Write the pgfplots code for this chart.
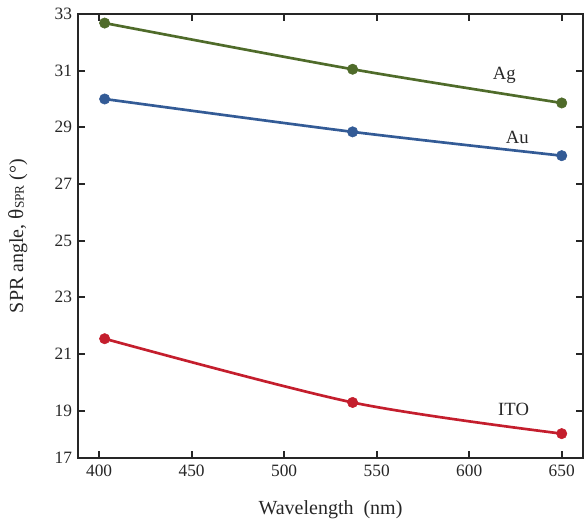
\documentclass[border=0pt]{standalone}
\usepackage{pgfplots}
\pgfplotsset{compat=1.18}
\usepackage{fontspec}
\setmainfont{Liberation Serif}
\definecolor{agc}{HTML}{4F6B2A}
\definecolor{auc}{HTML}{335B96}
\definecolor{itoc}{HTML}{C41E2D}
\begin{document}
\begin{tikzpicture}
\useasboundingbox (-58.5pt,-52pt) rectangle (382.5pt,343.5pt);
\begin{axis}[
  at={(0,0)}, anchor=south west,
  scale only axis, width=378.75pt, height=333pt,
  xmin=388.6, xmax=661.5, ymin=17.33, ymax=33,
  xtick={400,450,...,650},
  ytick={17.33,19,21,23,25,27,29,31,33},
  yticklabels={17,19,21,23,25,27,29,31,33},
  tick align=inside, major tick length=5.5pt,
  tick style={line width=1.4pt, black!85},
  axis line style={line width=1.4pt, black!85},
  every tick label/.style={font=\fontsize{13}{15}\selectfont, text=black!85},
  /pgf/number format/assume math mode=true,
  xticklabel style={yshift=-2pt},
  yticklabel style={xshift=-1pt},
  xlabel={Wavelength\ \ (nm)},
  ylabel={SPR angle, {\fontsize{16}{18}\selectfont θ}\raisebox{-0.5pt}{\fontsize{10}{12}\selectfont SPR} (°)},
  label style={font=\fontsize{15}{18}\selectfont, text=black!85},
  xlabel style={at={(axis description cs:0.5,0)}, anchor=center, yshift=-39pt},
  ylabel style={at={(axis description cs:-0.119,0.5)}, anchor=center},
  clip=false,
]
\addplot[agc, line width=2pt, smooth, mark=*, mark size=3.9pt, mark options={line width=0.4pt}] coordinates {(403,32.68) (537,31.05) (650,29.86)};
\addplot[auc, line width=2pt, smooth, mark=*, mark size=3.9pt, mark options={line width=0.4pt}] coordinates {(403,30.00) (537,28.84) (650,28.00)};
\addplot[itoc, line width=2pt, smooth, mark=*, mark size=3.9pt, mark options={line width=0.4pt}] coordinates {(403,21.54) (537,19.29) (650,18.19)};
\node[font=\fontsize{14}{16}\selectfont, text=black!85] at (axis cs:619,30.85) {Ag};
\node[font=\fontsize{14}{16}\selectfont, text=black!85] at (axis cs:626,28.63) {Au};
\node[font=\fontsize{14}{16}\selectfont, text=black!85] at (axis cs:624,19.04) {ITO};
\end{axis}
\end{tikzpicture}
\end{document}
